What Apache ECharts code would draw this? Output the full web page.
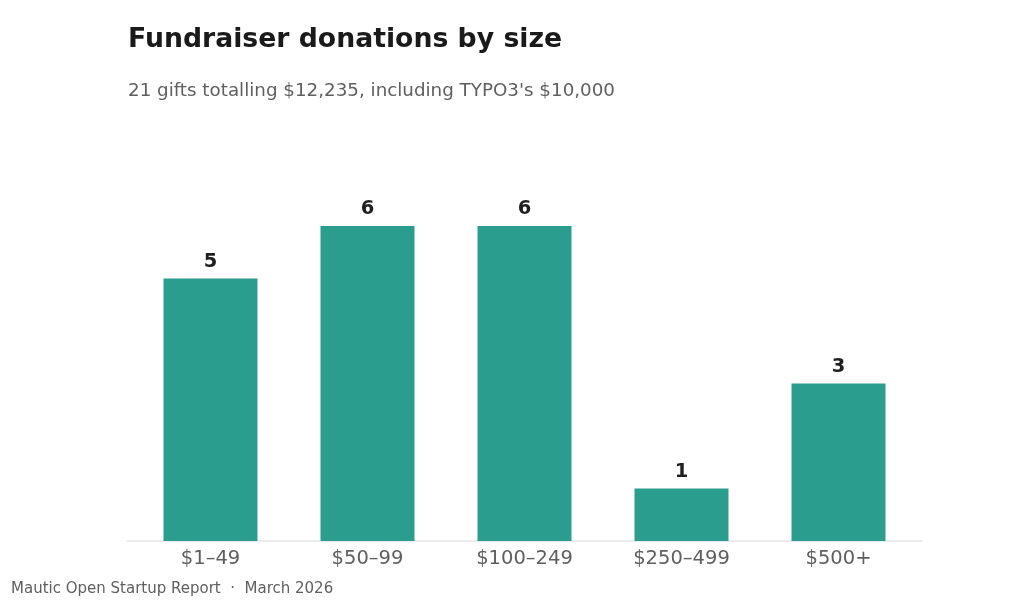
<!DOCTYPE html>
<html><head><meta charset="utf-8">
<script src="https://cdn.jsdelivr.net/npm/echarts@6/dist/echarts.min.js"></script>
<style>html,body{margin:0;padding:0;background:#fff}#c{width:1024px;height:602px}</style>
</head><body><div id="c"></div>
<script>
const categories = ['$1–49', '$50–99', '$100–249', '$250–499', '$500+'];
const counts = [5, 6, 6, 1, 3];
const titleText = 'Fundraiser donations by size';
const subtitleText = "21 gifts totalling $12,235, including TYPO3's $10,000";
const footerText = 'Mautic Open Startup Report  ·  March 2026';

const chart = echarts.init(document.getElementById('c'), null, {renderer: 'canvas'});
const font = '"DejaVu Sans", sans-serif';
chart.setOption({
  animation: false,
  backgroundColor: '#ffffff',
  title: [
    {text: titleText, left: 123, top: 22, padding: 5, textStyle: {fontFamily: font, fontSize: 26.7, fontWeight: 'bold', color: '#1a1a1a'}},
    {text: subtitleText, left: 123, top: 77, padding: 5, textStyle: {fontFamily: font, fontSize: 18.3, fontWeight: 'normal', color: '#5f5f5f'}},
    {text: footerText, left: 6, top: 577, padding: 5, textStyle: {fontFamily: font, fontSize: 15, fontWeight: 'normal', color: '#5f5f5f'}}
  ],
  grid: [
    {left: 132, right: 107, top: 226, bottom: 61, containLabel: false},
    {left: 127, right: 102, top: 226, bottom: 61, containLabel: false}
  ],
  xAxis: [{
    type: 'category', data: categories, gridIndex: 0,
    axisLine: {show: false},
    axisTick: {show: false},
    axisLabel: {fontFamily: font, fontSize: 19.5, color: '#5f5f5f', margin: 8}
  }, {
    type: 'category', data: categories, gridIndex: 1,
    axisLine: {show: true, lineStyle: {color: '#e6e6e6', width: 1.5}},
    axisTick: {show: false},
    axisLabel: {show: false}
  }],
  yAxis: [
    {type: 'value', min: 0, max: 6, show: false, gridIndex: 0, splitLine: {show: false}},
    {type: 'value', min: 0, max: 6, show: false, gridIndex: 1, splitLine: {show: false}}
  ],
  series: [{
    type: 'bar', data: counts, barWidth: 94, xAxisIndex: 0, yAxisIndex: 0, z: 3,
    itemStyle: {color: '#2a9d8f'},
    label: {show: true, position: 'top', distance: 7, fontFamily: font, fontSize: 19.5, fontWeight: 'bold', color: '#1f1f1f'}
  }]
});
</script></body></html>
